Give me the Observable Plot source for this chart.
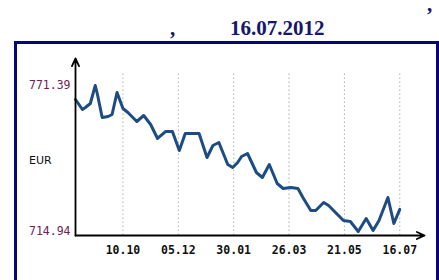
<!DOCTYPE html>
<html><head><meta charset="utf-8">
<script src="https://cdn.jsdelivr.net/npm/d3@7"></script>
<script src="https://cdn.jsdelivr.net/npm/@observablehq/plot@0.6"></script>
<style>
body{margin:0;background:#fff;width:439px;height:280px;overflow:hidden;position:relative;font-family:"Liberation Serif",serif;}
.t{position:absolute;color:#16166e;font-weight:bold;font-size:21px;white-space:nowrap;line-height:24px;}
#box{position:absolute;left:14px;top:41px;width:419px;height:260px;border:3px solid #06067a;}
#eur{position:absolute;left:29px;top:154px;font:11px "DejaVu Sans",sans-serif;color:#111;}
#chart{position:absolute;left:0;top:0;}
</style></head>
<body>
<div class="t" style="left:427px;top:0px;line-height:8px">,</div>
<div class="t" style="left:170px;top:16px">,</div>
<div class="t" style="left:230px;top:16px">16.07.2012</div>
<div id="box"></div>
<div id="chart"></div>
<div id="eur">EUR</div>
<script>
const dates = ["2011-08-23","2011-08-30","2011-09-02","2011-09-07","2011-09-12","2011-09-14","2011-09-19","2011-09-25","2011-09-29","2011-10-04","2011-10-10","2011-10-15","2011-10-24","2011-10-31","2011-11-07","2011-11-14","2011-11-22","2011-11-29","2011-12-06","2011-12-12","2011-12-26","2012-01-03","2012-01-09","2012-01-15","2012-01-24","2012-01-29","2012-02-03","2012-02-07","2012-02-13","2012-02-22","2012-02-28","2012-03-06","2012-03-14","2012-03-20","2012-03-28","2012-04-04","2012-04-09","2012-04-17","2012-04-22","2012-04-30","2012-05-05","2012-05-12","2012-05-20","2012-05-27","2012-06-04","2012-06-12","2012-06-19","2012-06-25","2012-07-04","2012-07-10","2012-07-16"];
const values = [765.98,762.11,762.88,764.43,771.39,768.30,759.02,759.40,760.18,768.68,762.50,760.95,757.47,759.79,756.31,750.90,753.60,753.60,746.26,752.83,752.83,743.55,748.19,749.35,740.85,739.69,741.62,743.94,745.10,737.75,735.82,740.85,733.50,731.56,731.95,731.56,728.08,723.06,723.06,726.15,724.99,722.29,719.19,718.81,714.94,719.97,715.33,719.19,728.08,718.03,723.50];
const tickDates = ["2011-10-10","2011-12-05","2012-01-30","2012-03-26","2012-05-21","2012-07-16"];
const tickLabels = ["10.10","05.12","30.01","26.03","21.05","16.07"];
const yTicks = [714.94, 771.39];
const xDomain = ["2011-08-23","2012-08-10"];
const yDomain = [713.39, 781.83];

const parse = d3.utcParse("%Y-%m-%d");
const data = dates.map((d,i)=>({date:parse(d), value:values[i]}));
const tdates = tickDates.map(parse);
const xd = xDomain.map(parse);
const labelOf = new Map(tdates.map((d,i)=>[+d, tickLabels[i]]));

const chart = Plot.plot({
  width: 439, height: 280,
  marginLeft: 75, marginRight: 15, marginTop: 58, marginBottom: 45,
  style: {background: "transparent", overflow: "visible"},
  x: {type: "utc", domain: xd},
  y: {domain: yDomain},
  marks: [
    Plot.ruleX(tdates, {y1: yDomain[0], y2: 776.8, stroke: "#b0b0b0", strokeDasharray: "1.5,2.5", strokeWidth: 1}),
    Plot.line(data, {x: "date", y: "value", stroke: "#1d4c85", strokeWidth: 3, strokeLinejoin: "round"}),
    Plot.arrow([{x1: xd[0], x2: xd[1], y1: yDomain[0], y2: yDomain[0]}], {x1:"x1", x2:"x2", y1:"y1", y2:"y2", stroke: "#000", strokeWidth: 1.8, headLength: 7, headAngle: 50}),
    Plot.arrow([{x1: xd[0], x2: xd[0], y1: yDomain[0], y2: yDomain[1]}], {x1:"x1", x2:"x2", y1:"y1", y2:"y2", stroke: "#000", strokeWidth: 1.8, headLength: 7, headAngle: 50}),
    Plot.axisX({ticks: tdates, tickSize: 0, tickPadding: 10, tickFormat: d => labelOf.get(+d), fontFamily: "DejaVu Sans Mono", fontSize: 11.5, fontWeight: 600, fill: "#111", label: null}),
    Plot.axisY({ticks: yTicks, tickSize: 0, tickPadding: 5, tickFormat: d => d.toFixed(2), fontFamily: "DejaVu Sans Mono", fontSize: 11.5, fill: "#6e2352", label: null})
  ]
});
document.getElementById("chart").appendChild(chart);
</script>
</body></html>
